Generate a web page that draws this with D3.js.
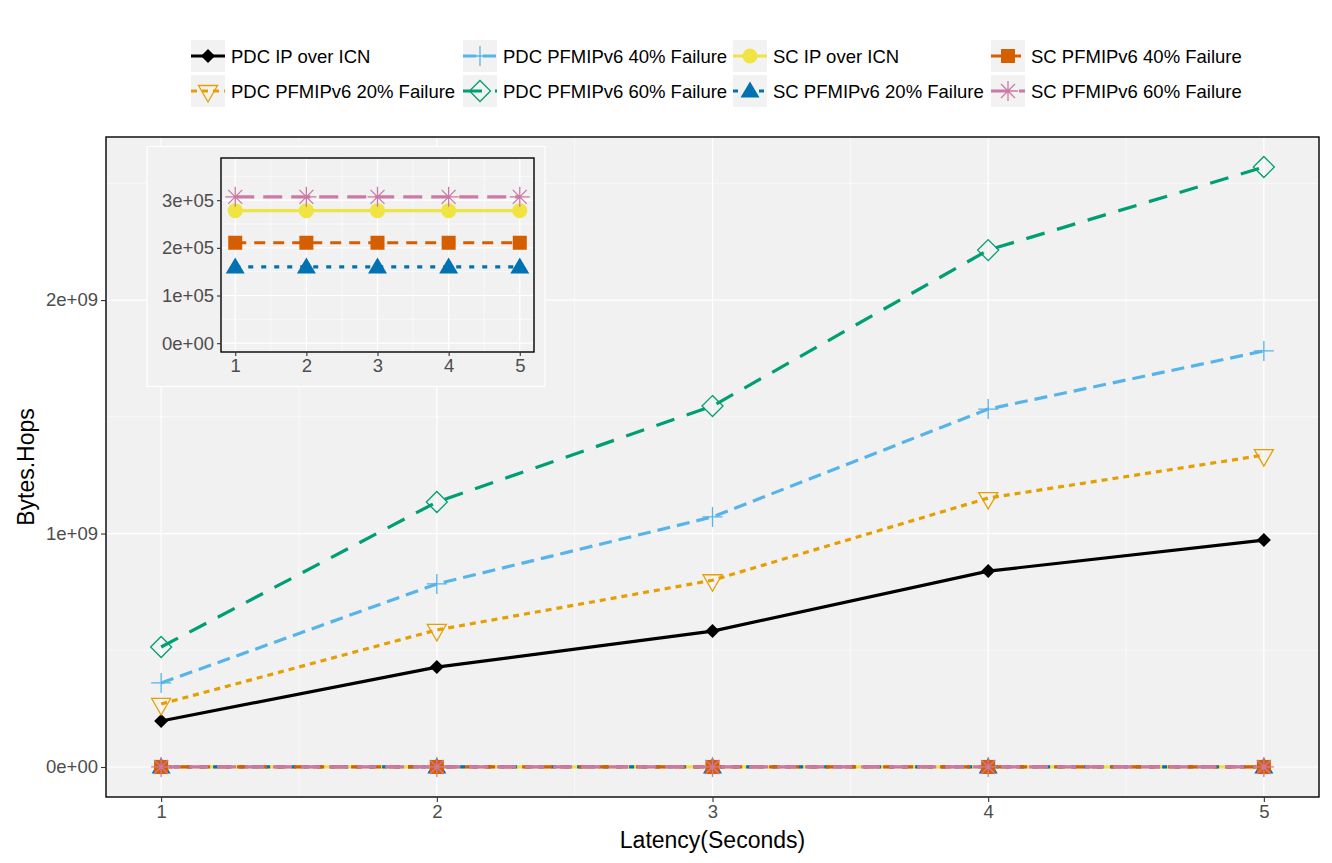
<!DOCTYPE html>
<html>
<head>
<meta charset="utf-8">
<script src="https://cdn.jsdelivr.net/npm/d3@7"></script>
<style>
  body { margin: 0; background: #fff; }
  svg { display: block; font-family: "Liberation Sans", Arial, sans-serif; }
</style>
</head>
<body>
<div id="chart"></div>
<script>
// ---- data ----
const latency = [1, 2, 3, 4, 5];

const seriesNames = [
  "PDC IP over ICN", "PDC PFMIPv6 20% Failure", "PDC PFMIPv6 40% Failure", "PDC PFMIPv6 60% Failure",
  "SC IP over ICN", "SC PFMIPv6 20% Failure", "SC PFMIPv6 40% Failure", "SC PFMIPv6 60% Failure"
];

const pdcIP    = [1.97e8, 4.28e8, 5.82e8, 8.39e8, 9.72e8];
const pdc20    = [2.70e8, 5.87e8, 8.00e8, 1.152e9, 1.336e9];
const pdc40    = [3.60e8, 7.84e8, 1.071e9, 1.533e9, 1.782e9];
const pdc60    = [5.14e8, 1.135e9, 1.546e9, 2.214e9, 2.57e9];
const scIP     = [2.78e5, 2.78e5, 2.78e5, 2.78e5, 2.78e5];
const sc20     = [1.60e5, 1.60e5, 1.60e5, 1.60e5, 1.60e5];
const sc40     = [2.107e5, 2.107e5, 2.107e5, 2.107e5, 2.107e5];
const sc60     = [3.07e5, 3.07e5, 3.07e5, 3.07e5, 3.07e5];

const mainTicks = [0, 1e9, 2e9];
const mainTickLabels = ["0e+00", "1e+09", "2e+09"];
const insetTicks = [0, 1e5, 2e5, 3e5];
const insetTickLabels = ["0e+00", "1e+05", "2e+05", "3e+05"];

// styles per series (same order as seriesNames)
const colors = ["#000000", "#E69F00", "#56B4E9", "#009E73", "#F0E442", "#0072B2", "#D55E00", "#CC79A7"];
const dashes = [null, "6,5", "13,7", "19,13", null, "5,8", "11,8", "19,9"];
const shapes = ["diamondFill", "triDownOpen", "plus", "diamondOpen", "circle", "triUp", "square", "asterisk"];

const values = [pdcIP, pdc20, pdc40, pdc60, scIP, sc20, sc40, sc60];
const series = seriesNames.map((name, i) => ({
  name, color: colors[i], dash: dashes[i], shape: shapes[i],
  points: latency.map((x, j) => ({ x, y: values[i][j] }))
}));

// ---- helpers ----
const drawShape = (g, shape, color) => {
  switch (shape) {
    case "diamondFill":
      return g.append("path").attr("d", "M0,-7L7,0L0,7L-7,0Z").attr("fill", color);
    case "triDownOpen":
      return g.append("path").attr("d", "M-9.5,-5.5L9.5,-5.5L0,11Z")
        .attr("fill", "none").attr("stroke", color).attr("stroke-width", 1.3);
    case "plus":
      return g.append("path").attr("d", "M-10,0H10M0,-10V10")
        .attr("stroke", color).attr("stroke-width", 1.3);
    case "diamondOpen":
      return g.append("path").attr("d", "M0,-10.5L10.5,0L0,10.5L-10.5,0Z")
        .attr("fill", "none").attr("stroke", color).attr("stroke-width", 1.3);
    case "circle":
      return g.append("circle").attr("r", 7.5).attr("fill", color);
    case "triUp":
      return g.append("path").attr("d", "M0,-9.5L9.5,6.5L-9.5,6.5Z").attr("fill", color);
    case "square":
      return g.append("rect").attr("x", -7).attr("y", -7).attr("width", 14).attr("height", 14).attr("fill", color);
    case "asterisk":
      return g.append("path")
        .attr("d", "M-10,0H10M0,-10V10M-7,-7L7,7M-7,7L7,-7")
        .attr("stroke", color).attr("stroke-width", 1.3);
  }
};

const width = 1332, height = 863;
const svg = d3.select("#chart").append("svg").attr("width", width).attr("height", height);

// draws a ggplot-like panel
const drawPanel = (opts) => {
  const { left, right, top, bottom, yMax, yTicks, yLabels, data, lineWidth, tickSize } = opts;
  const x = d3.scaleLinear().domain([0.8, 5.2]).range([left, right]);
  const yPad = yMax * 0.05;
  const y = d3.scaleLinear().domain([-yPad, yMax + yPad]).range([bottom, top]);

  const g = svg.append("g");
  g.append("rect").attr("x", left).attr("y", top).attr("width", right - left).attr("height", bottom - top)
    .attr("fill", "#F0F1F0");

  // minor grid
  const yStep = yTicks[1] - yTicks[0];
  const yMinor = d3.range(yTicks[0] + yStep / 2, yMax + yPad, yStep);
  g.selectAll(".ymin").data(yMinor).join("line")
    .attr("x1", left).attr("x2", right).attr("y1", d => y(d)).attr("y2", d => y(d))
    .attr("stroke", "#fff").attr("stroke-width", 0.6);
  g.selectAll(".xmin").data([1.5, 2.5, 3.5, 4.5]).join("line")
    .attr("y1", top).attr("y2", bottom).attr("x1", d => x(d)).attr("x2", d => x(d))
    .attr("stroke", "#fff").attr("stroke-width", 0.6);
  // major grid
  g.selectAll(".ymaj").data(yTicks).join("line")
    .attr("x1", left).attr("x2", right).attr("y1", d => y(d)).attr("y2", d => y(d))
    .attr("stroke", "#fff").attr("stroke-width", 1.2);
  g.selectAll(".xmaj").data(latency).join("line")
    .attr("y1", top).attr("y2", bottom).attr("x1", d => x(d)).attr("x2", d => x(d))
    .attr("stroke", "#fff").attr("stroke-width", 1.2);

  // lines
  const line = d3.line().x(d => x(d.x)).y(d => y(d.y));
  data.forEach(s => {
    g.append("path").attr("d", line(s.points)).attr("fill", "none")
      .attr("stroke", s.color).attr("stroke-width", lineWidth)
      .attr("stroke-dasharray", s.dash);
  });
  // points
  data.forEach(s => {
    s.points.forEach(p => {
      const pg = g.append("g").attr("transform", `translate(${x(p.x)},${y(p.y)})`);
      drawShape(pg, s.shape, s.color);
    });
  });

  // border
  g.append("rect").attr("x", left).attr("y", top).attr("width", right - left).attr("height", bottom - top)
    .attr("fill", "none").attr("stroke", "#000").attr("stroke-width", 1.4);

  // axes
  const yAxis = d3.axisLeft(y).tickValues(yTicks).tickFormat((d, i) => yLabels[i]).tickSize(tickSize).tickPadding(3);
  const xAxis = d3.axisBottom(x).tickValues(latency).tickFormat(d3.format("d")).tickSize(tickSize).tickPadding(3);
  const ya = g.append("g").attr("transform", `translate(${left},0)`).call(yAxis);
  const xa = g.append("g").attr("transform", `translate(0,${bottom})`).call(xAxis);
  [ya, xa].forEach(a => {
    a.attr("font-size", null).attr("font-family", null);
    a.select(".domain").remove();
    a.selectAll(".tick line").attr("stroke", "#333").attr("stroke-width", 1.1);
    a.selectAll(".tick text").attr("fill", "#4D4D4D").style("font-size", "18.5px");
  });
  return { x, y };
};

// ---- main panel ----
const mainLeft = 106, mainRight = 1319, mainTop = 137, mainBottom = 797;
drawPanel({
  left: mainLeft, right: mainRight, top: mainTop, bottom: mainBottom,
  yMax: 2.57e9, yTicks: mainTicks, yLabels: mainTickLabels,
  data: series, lineWidth: 3.2, tickSize: 5
});

// axis titles
svg.append("text").attr("x", (mainLeft + mainRight) / 2).attr("y", 848)
  .attr("text-anchor", "middle").style("font-size", "23px").text("Latency(Seconds)");
svg.append("text").attr("transform", `translate(34,${(mainTop + mainBottom) / 2}) rotate(-90)`)
  .attr("text-anchor", "middle").style("font-size", "23px").text("Bytes.Hops");

// ---- inset ----
svg.append("rect").attr("x", 147).attr("y", 146.5).attr("width", 398).attr("height", 240)
  .attr("fill", "#F0F1F0").attr("stroke", "#fff").attr("stroke-width", 1.2);
drawPanel({
  left: 221, right: 534, top: 158, bottom: 352,
  yMax: 3.7e5, yTicks: insetTicks, yLabels: insetTickLabels,
  data: series.slice(4), lineWidth: 3.2, tickSize: 4
});

// ---- legend ----
const legend = svg.append("g");
const colX = [191, 463, 733, 991];
const rowY = [40, 75];
series.forEach((s, i) => {
  const col = Math.floor(i / 2), row = i % 2;
  const kg = legend.append("g").attr("transform", `translate(${colX[col]},${rowY[row]})`);
  kg.append("rect").attr("width", 34).attr("height", 32).attr("fill", "#F2F2F2");
  kg.append("line").attr("x1", 0).attr("x2", 34).attr("y1", 16).attr("y2", 16)
    .attr("stroke", s.color).attr("stroke-width", 3.2).attr("stroke-dasharray", s.dash);
  drawShape(kg.append("g").attr("transform", "translate(17,16)"), s.shape, s.color);
  kg.append("text").attr("x", 40).attr("y", 22.5).style("font-size", "18.5px").text(s.name);
});
</script>
</body>
</html>
